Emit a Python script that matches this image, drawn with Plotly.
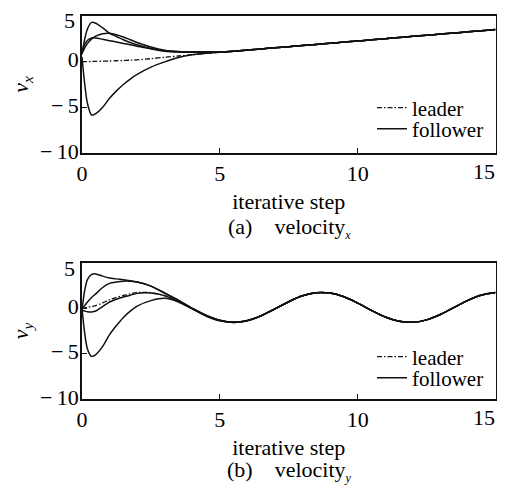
import plotly.graph_objects as go

# ---------------- data ----------------
t = [0, 0.1, 0.2, 0.35, 0.5, 0.75, 1.0, 1.25, 1.5, 1.75, 2.0, 2.5, 3.0, 3.5, 4.0,
     4.5, 5.0, 5.5, 6.0, 6.5, 7.0, 7.5, 8.0, 8.5, 9.0, 9.5, 10.0, 10.5, 11.0,
     11.5, 12.0, 12.5, 13.0, 13.5, 14.0, 14.5, 15.0]

vx_leader = [0, 0.0, 0.01, 0.02, 0.03, 0.05, 0.07, 0.1, 0.13, 0.16, 0.2, 0.33, 0.48, 0.62, 0.77,
             0.9, 1.02, 1.14, 1.27, 1.39, 1.52, 1.64, 1.77, 1.89, 2.02, 2.14, 2.27, 2.39, 2.52,
             2.64, 2.77, 2.89, 3.02, 3.14, 3.27, 3.39, 3.52]
vx_f1 = [0.8, 2.5, 3.6, 4.3, 4.2, 3.7, 3.1, 2.75, 2.4, 2.1, 1.85, 1.45, 1.2, 1.08, 1.05,
         1.05, 1.07, 1.15, 1.27, 1.39, 1.52, 1.64, 1.77, 1.89, 2.02, 2.14, 2.27, 2.39, 2.52,
         2.64, 2.77, 2.89, 3.02, 3.14, 3.27, 3.39, 3.52]
vx_f2 = [0.9, 1.5, 2.0, 2.5, 2.8, 3.05, 3.1, 2.95, 2.7, 2.4, 2.1, 1.6, 1.25, 1.1, 1.05,
         1.05, 1.07, 1.15, 1.27, 1.39, 1.52, 1.64, 1.77, 1.89, 2.02, 2.14, 2.27, 2.39, 2.52,
         2.64, 2.77, 2.89, 3.02, 3.14, 3.27, 3.39, 3.52]
vx_f3 = [1.2, 1.9, 2.35, 2.6, 2.6, 2.45, 2.3, 2.15, 2.0, 1.85, 1.7, 1.4, 1.15, 1.05, 1.02,
         1.03, 1.05, 1.14, 1.27, 1.39, 1.52, 1.64, 1.77, 1.89, 2.02, 2.14, 2.27, 2.39, 2.52,
         2.64, 2.77, 2.89, 3.02, 3.14, 3.27, 3.39, 3.52]
vx_f4 = [0.5, -2.5, -4.6, -5.85, -5.7, -5.0, -4.0, -3.2, -2.5, -1.9, -1.4, -0.6, -0.02, 0.45, 0.75,
         0.93, 1.03, 1.13, 1.27, 1.39, 1.52, 1.64, 1.77, 1.89, 2.02, 2.14, 2.27, 2.39, 2.52,
         2.64, 2.77, 2.89, 3.02, 3.14, 3.27, 3.39, 3.52]

vy_leader = [0, 0.05, 0.1, 0.2, 0.3, 0.6, 0.95, 1.2, 1.42, 1.6, 1.74, 1.74, 1.38, 0.73, -0.06,
             -0.82, -1.36, -1.55, -1.36, -0.82, -0.06, 0.73, 1.38, 1.72, 1.68, 1.27, 0.58, -0.22, -0.95,
             -1.42, -1.54, -1.27, -0.68, 0.1, 0.88, 1.47, 1.74]
vy_f1 = [-0.2, 2.0, 3.2, 3.75, 3.8, 3.55, 3.35, 3.25, 3.15, 3.05, 2.9, 2.45, 1.7, 0.9, 0.0,
         -0.75, -1.3, -1.52, -1.33, -0.8, -0.06, 0.73, 1.38, 1.72, 1.68, 1.27, 0.58, -0.22, -0.95,
         -1.42, -1.54, -1.27, -0.68, 0.1, 0.88, 1.47, 1.74]
vy_f2 = [-0.1, 0.3, 0.7, 1.2, 1.6, 2.3, 2.75, 2.9, 3.0, 3.0, 2.9, 2.45, 1.65, 0.85, 0.0,
         -0.78, -1.32, -1.53, -1.35, -0.81, -0.06, 0.73, 1.38, 1.72, 1.68, 1.27, 0.58, -0.22, -0.95,
         -1.42, -1.54, -1.27, -0.68, 0.1, 0.88, 1.47, 1.74]
vy_f3 = [-0.2, -0.3, -0.38, -0.4, -0.3, 0.2, 0.7, 1.0, 1.25, 1.45, 1.65, 1.68, 1.4, 0.75, -0.04,
         -0.8, -1.35, -1.55, -1.36, -0.82, -0.06, 0.73, 1.38, 1.72, 1.68, 1.27, 0.58, -0.22, -0.95,
         -1.42, -1.54, -1.27, -0.68, 0.1, 0.88, 1.47, 1.74]
vy_f4 = [0, -2.8, -4.5, -5.3, -5.1, -4.2, -2.9, -1.9, -1.0, -0.3, 0.25, 0.85, 1.1, 0.7, -0.05,
         -0.84, -1.38, -1.57, -1.38, -0.83, -0.06, 0.73, 1.38, 1.72, 1.68, 1.27, 0.58, -0.22, -0.95,
         -1.42, -1.54, -1.27, -0.68, 0.1, 0.88, 1.47, 1.74]

x_ticks = [0, 5, 10, 15]
x_tick_labels = ["0", "5", "10", "15"]
y_ticks = [5, 0, -5, -10]
y_tick_labels = ["5", "0", "\u2212\u20095", "\u2212\u200910"]
x_title = "iterative step"
captions = ["(a)\u00a0\u00a0\u00a0\u00a0velocity<sub><span style='font-size:12px'><i>x</i></span></sub>",
            "(b)\u00a0\u00a0\u00a0\u00a0velocity<sub><span style='font-size:12px'><i>y</i></span></sub>"]
y_titles = ["<i>v</i><sub><i>x</i></sub>", "<i>v</i><sub><i>y</i></sub>"]

# ---------------- figure ----------------
FONT = "Liberation Serif, Times New Roman, serif"
LC = "#111111"
OFF = 8                      # page body margin of the html page (on every side)
W, H = 505 - 2 * OFF, 493 - 2 * OFF
FS = 22

fig = go.Figure()

panels = [
    ("x", "y", "legend", "legend2", vx_leader, [vx_f1, vx_f2, vx_f3, vx_f4]),
    ("x2", "y2", "legend3", "legend4", vy_leader, [vy_f1, vy_f2, vy_f3, vy_f4]),
]
for xa, ya, lg_l, lg_f, lead, fols in panels:
    fig.add_trace(go.Scatter(x=t, y=lead, xaxis=xa, yaxis=ya, mode="lines", name="leader",
                             legend=lg_l, showlegend=True,
                             line=dict(color=LC, width=1.3, dash="5px,2px,1.5px,2px",
                                       shape="spline", smoothing=0.8)))
    for i, f in enumerate(fols):
        fig.add_trace(go.Scatter(x=t, y=f, xaxis=xa, yaxis=ya, mode="lines", name="follower",
                                 legend=lg_f, showlegend=(i == 0),
                                 line=dict(color=LC, width=1.5, shape="spline", smoothing=0.8)))


def fx(p):  # screen x pixel -> paper fraction
    return (p - OFF) / W


def fy(p):  # screen y pixel -> paper fraction
    return 1 - (p - OFF) / H


axis_common = dict(showline=True, linecolor=LC, linewidth=1.6, mirror=True,
                   ticks="inside", ticklen=5, tickwidth=1.3, tickcolor=LC,
                   showgrid=False, zeroline=False, automargin=False,
                   ticklabeloverflow="allow",
                   tickfont=dict(family=FONT, size=FS, color="black"))

# the outermost tick labels sit slightly inside their ticks (drawn as annotations below)
xcommon = dict(axis_common, range=[0, 15], tickvals=x_ticks,
               ticktext=x_tick_labels[:-1] + [""],
               domain=[fx(82), fx(495.5)],
               title=dict(text=x_title, font=dict(family=FONT, size=FS, color="black"),
                          standoff=8))
ycommon = dict(axis_common, range=[-10, 5], tickvals=y_ticks,
               ticktext=[""] + y_tick_labels[1:],
               ticklabelstandoff=-3, ticklabelshift=-2)

leg_common = dict(xanchor="left", yanchor="middle", bgcolor="rgba(0,0,0,0)",
                  font=dict(family=FONT, size=21), itemwidth=30, x=fx(372))

annots = []
for cap, cy in zip(captions, [228, 471]):
    annots.append(dict(text=cap, x=fx(289), y=fy(cy), xref="paper", yref="paper",
                       xanchor="center", yanchor="middle",
                       showarrow=False, font=dict(family=FONT, size=FS)))
for xr, ly in [("x", 171), ("x2", 417)]:
    annots.append(dict(text=x_tick_labels[-1], x=x_ticks[-1], xref=xr, y=fy(ly), yref="paper",
                       xanchor="right", yanchor="middle", xshift=1,
                       showarrow=False, font=dict(family=FONT, size=FS)))
for yr in ["y", "y2"]:
    annots.append(dict(text=y_tick_labels[0], x=fx(77), xref="paper", y=y_ticks[0], yref=yr,
                       xanchor="right", yanchor="middle", yshift=-5,
                       showarrow=False, font=dict(family=FONT, size=FS)))

fig.update_layout(
    width=W, height=H,
    margin=dict(l=0, r=0, t=0, b=0),
    paper_bgcolor="white", plot_bgcolor="white",
    font=dict(family=FONT, color="black"),
    xaxis=dict(xcommon, anchor="y"),
    yaxis=dict(ycommon, domain=[fy(153), fy(16)], anchor="x",
               title=dict(text=y_titles[0], font=dict(family=FONT, size=FS), standoff=20)),
    xaxis2=dict(xcommon, anchor="y2"),
    yaxis2=dict(ycommon, domain=[fy(399), fy(263)], anchor="x2",
                title=dict(text=y_titles[1], font=dict(family=FONT, size=FS), standoff=20)),
    legend=dict(leg_common, y=fy(108)),
    legend2=dict(leg_common, y=fy(129)),
    legend3=dict(leg_common, y=fy(357)),
    legend4=dict(leg_common, y=fy(378)),
    annotations=annots,
)

fig.write_html("out.html")
